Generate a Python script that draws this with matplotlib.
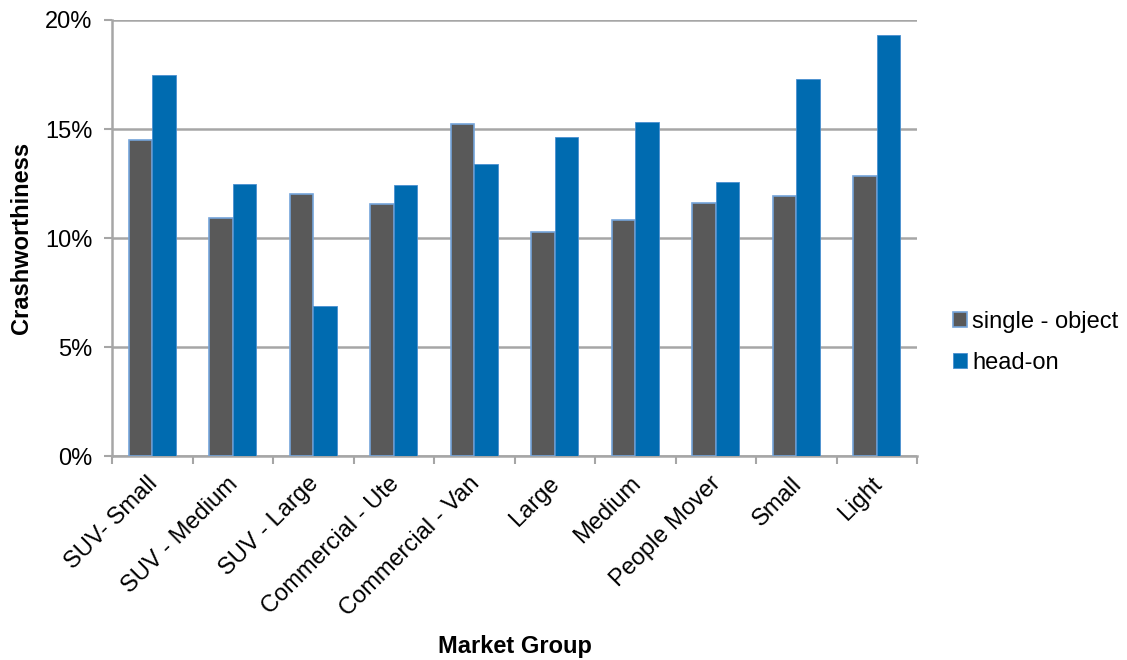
import numpy as np
import matplotlib.pyplot as plt
import matplotlib.transforms as mtransforms
from matplotlib.ticker import FuncFormatter

plt.rcParams['font.family'] = ['Liberation Sans', 'DejaVu Sans']

# Дані
groups = ['SUV- Small', 'SUV - Medium', 'SUV - Large', 'Commercial - Ute',
          'Commercial - Van', 'Large', 'Medium', 'People Mover', 'Small', 'Light']
single_object = [14.5, 10.9, 12.0, 11.55, 15.25, 10.28, 10.83, 11.6, 11.93, 12.83]
head_on = [17.5, 12.47, 6.88, 12.43, 13.4, 14.63, 15.32, 12.58, 17.3, 19.32]

fig = plt.figure(figsize=(11.27, 6.6), dpi=100)
ax = fig.add_axes([0.0994, 0.309, 0.7143, 0.6607])

x = np.arange(len(groups))
w = 0.29
ax.bar(x - w / 2, single_object, w, color='#595959', edgecolor='#74A4DA',
       linewidth=1.2, label='single - object', zorder=3)
ax.bar(x + w / 2, head_on, w, color='#006BB0', edgecolor='#4A90D0',
       linewidth=0.6, label='head-on', zorder=3)

ax.set_xlim(-0.5, len(groups) - 0.5)
ax.set_ylim(0, 20)
ax.set_yticks([0, 5, 10, 15, 20])
ax.yaxis.set_major_formatter(FuncFormatter(lambda v, p: f'{v:.0f}%'))
ax.yaxis.grid(True, color='#A6A6A6', linewidth=1.8, zorder=0)

ax.set_xticks(np.arange(len(groups) + 1) - 0.5)
ax.set_xticklabels([])
ax.set_xticks(x, minor=True)
ax.set_xticklabels(groups, minor=True, rotation=45, ha='right', va='top',
                   rotation_mode='anchor', fontsize=17)
ax.tick_params(axis='x', which='minor', length=0, pad=12)
ax.tick_params(axis='x', which='major', length=6, color='#A6A6A6', width=1.5)
ax.tick_params(axis='y', length=6, color='#A6A6A6', width=1.5, labelsize=17,
               pad=8)
# трохи зсунути підписи вліво
shift = mtransforms.ScaledTranslation(-6 / 100, 0, fig.dpi_scale_trans)
for lbl in ax.get_xticklabels(minor=True):
    lbl.set_transform(lbl.get_transform() + shift)

for s in ['top', 'right']:
    ax.spines[s].set_visible(False)
for s in ['left', 'bottom']:
    ax.spines[s].set_color('#A6A6A6')
    ax.spines[s].set_linewidth(1.8)

ax.set_ylabel('Crashworthiness', fontsize=17, fontweight='bold')
ax.set_xlabel('Market Group', fontsize=17, fontweight='bold')
ax.yaxis.set_label_coords(-0.098, 0.5)
ax.xaxis.set_label_coords(0.5, -0.41)

ax.legend(loc='center left', bbox_to_anchor=(1.045, 0.26), frameon=False,
          fontsize=17, handlelength=0.6, handleheight=0.6, handletextpad=0.2,
          labelspacing=0.8, borderpad=0, borderaxespad=0)

fig.savefig('out.png', dpi=100)
